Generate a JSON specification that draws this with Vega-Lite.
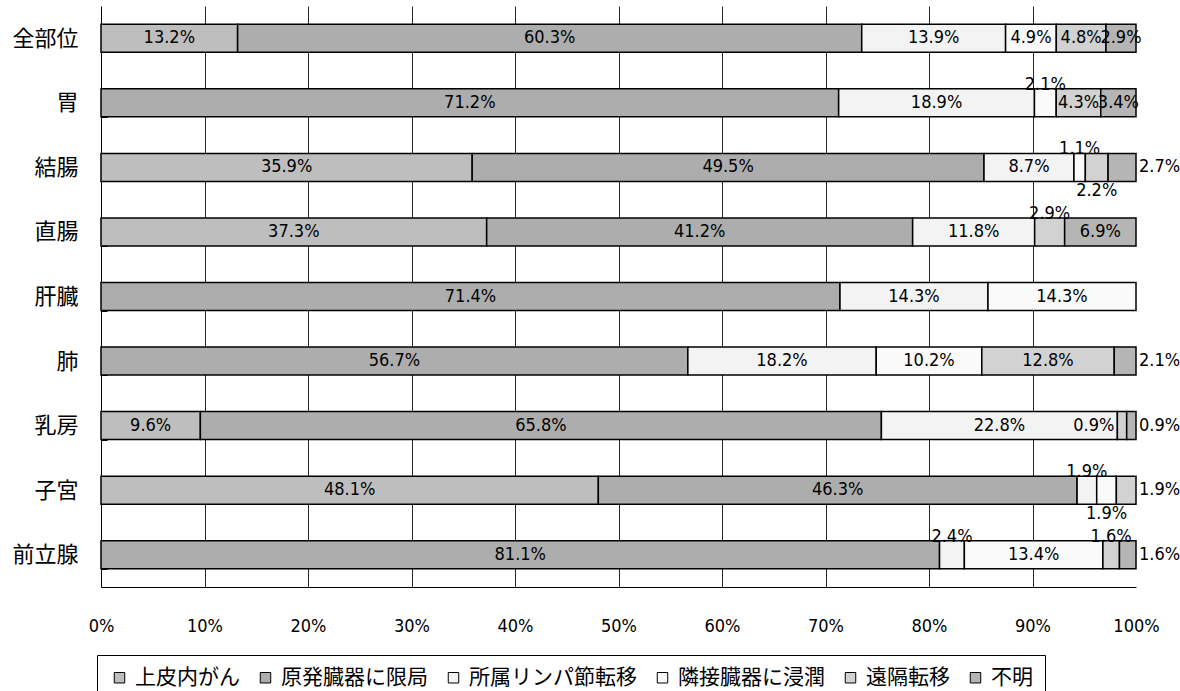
{
  "$schema": "https://vega.github.io/schema/vega-lite/v6.json",
  "autosize": {"type": "none"},
  "padding": {"left": 101, "top": 6, "right": 44, "bottom": 104},
  "width": 1035,
  "height": 581,
  "background": "white",
  "config": {
    "view": {"stroke": null},
    "text": {"font": "DejaVu Sans Condensed, Liberation Sans Narrow, sans-serif", "fontSize": 18, "color": "black"}
  },
  "data": {
    "values": [
      {"site": "全部位", "stage": "上皮内がん", "p": 0.132},
      {"site": "全部位", "stage": "原発臓器に限局", "p": 0.603},
      {"site": "全部位", "stage": "所属リンパ節転移", "p": 0.139},
      {"site": "全部位", "stage": "隣接臓器に浸潤", "p": 0.049},
      {"site": "全部位", "stage": "遠隔転移", "p": 0.048},
      {"site": "全部位", "stage": "不明", "p": 0.029},
      {"site": "胃", "stage": "原発臓器に限局", "p": 0.712},
      {"site": "胃", "stage": "所属リンパ節転移", "p": 0.189},
      {"site": "胃", "stage": "隣接臓器に浸潤", "p": 0.021},
      {"site": "胃", "stage": "遠隔転移", "p": 0.043},
      {"site": "胃", "stage": "不明", "p": 0.034},
      {"site": "結腸", "stage": "上皮内がん", "p": 0.359},
      {"site": "結腸", "stage": "原発臓器に限局", "p": 0.495},
      {"site": "結腸", "stage": "所属リンパ節転移", "p": 0.087},
      {"site": "結腸", "stage": "隣接臓器に浸潤", "p": 0.011},
      {"site": "結腸", "stage": "遠隔転移", "p": 0.022},
      {"site": "結腸", "stage": "不明", "p": 0.027},
      {"site": "直腸", "stage": "上皮内がん", "p": 0.373},
      {"site": "直腸", "stage": "原発臓器に限局", "p": 0.412},
      {"site": "直腸", "stage": "所属リンパ節転移", "p": 0.118},
      {"site": "直腸", "stage": "遠隔転移", "p": 0.029},
      {"site": "直腸", "stage": "不明", "p": 0.069},
      {"site": "肝臓", "stage": "原発臓器に限局", "p": 0.714},
      {"site": "肝臓", "stage": "所属リンパ節転移", "p": 0.143},
      {"site": "肝臓", "stage": "隣接臓器に浸潤", "p": 0.143},
      {"site": "肺", "stage": "原発臓器に限局", "p": 0.567},
      {"site": "肺", "stage": "所属リンパ節転移", "p": 0.182},
      {"site": "肺", "stage": "隣接臓器に浸潤", "p": 0.102},
      {"site": "肺", "stage": "遠隔転移", "p": 0.128},
      {"site": "肺", "stage": "不明", "p": 0.021},
      {"site": "乳房", "stage": "上皮内がん", "p": 0.096},
      {"site": "乳房", "stage": "原発臓器に限局", "p": 0.658},
      {"site": "乳房", "stage": "所属リンパ節転移", "p": 0.228},
      {"site": "乳房", "stage": "遠隔転移", "p": 0.009},
      {"site": "乳房", "stage": "不明", "p": 0.009},
      {"site": "子宮", "stage": "上皮内がん", "p": 0.481},
      {"site": "子宮", "stage": "原発臓器に限局", "p": 0.463},
      {"site": "子宮", "stage": "所属リンパ節転移", "p": 0.019},
      {"site": "子宮", "stage": "隣接臓器に浸潤", "p": 0.019},
      {"site": "子宮", "stage": "遠隔転移", "p": 0.019},
      {"site": "前立腺", "stage": "原発臓器に限局", "p": 0.811},
      {"site": "前立腺", "stage": "所属リンパ節転移", "p": 0.024},
      {"site": "前立腺", "stage": "隣接臓器に浸潤", "p": 0.134},
      {"site": "前立腺", "stage": "遠隔転移", "p": 0.016},
      {"site": "前立腺", "stage": "不明", "p": 0.016}
    ]
  },
  "transform": [
    {"stack": "p", "groupby": ["site"], "offset": "normalize", "as": ["x0", "x1"]},
    {"calculate": "(datum.x0 + datum.x1) / 2", "as": "xm"},
    {"calculate": "datum.site + '|' + datum.stage", "as": "key"}
  ],
  "encoding": {
    "y": {
      "field": "site",
      "type": "nominal",
      "sort": ["全部位", "胃", "結腸", "直腸", "肝臓", "肺", "乳房", "子宮", "前立腺"],
      "scale": {"paddingInner": 0.566, "paddingOuter": 0.283},
      "axis": {
        "title": null,
        "domainColor": "black",
        "domainWidth": 1,
        "tickBand": "extent",
        "tickColor": "black",
        "tickSize": -6,
        "labelPadding": 29,
        "labelFont": "Noto Sans CJK JP",
        "labelFontSize": 22,
        "labelColor": "black"
      }
    }
  },
  "layer": [
    {
      "mark": {"type": "bar", "stroke": "black", "strokeWidth": 1.5},
      "encoding": {
        "x": {
          "field": "x0",
          "type": "quantitative",
          "scale": {"domain": [0, 1], "nice": false, "zero": true},
          "axis": {
            "title": null,
            "values": [0, 0.1, 0.2, 0.3, 0.4, 0.5, 0.6, 0.7, 0.8, 0.9, 1],
            "format": ".0%",
            "grid": true,
            "gridColor": "black",
            "gridWidth": 1,
            "gridOpacity": {"condition": {"test": "datum.value <= 0 || datum.value >= 1", "value": 0}, "value": 0.85},
            "ticks": false,
            "domainColor": "black",
            "domainWidth": 1,
            "labelPadding": 30,
            "labelFont": "DejaVu Sans Condensed, Liberation Sans Narrow, sans-serif",
            "labelFontSize": 18,
            "labelColor": "black",
            "labelFlush": false
          }
        },
        "x2": {"field": "x1"},
        "fill": {
          "field": "stage",
          "type": "nominal",
          "scale": {
            "domain": ["上皮内がん", "原発臓器に限局", "所属リンパ節転移", "隣接臓器に浸潤", "遠隔転移", "不明"],
            "range": ["#bebebe", "#adadad", "#f3f3f3", "#fafafa", "#d2d2d2", "#b5b5b5"]
          },
          "legend": {
            "title": null,
            "orient": "none",
            "direction": "horizontal",
            "legendX": -4,
            "legendY": 649,
            "strokeColor": "black",
            "padding": 12,
            "symbolType": "square",
            "symbolSize": 110,
            "symbolStrokeColor": "black",
            "symbolStrokeWidth": 1,
            "labelFont": "Noto Sans CJK JP",
            "labelFontSize": 21,
            "labelColor": "black",
            "labelOffset": 5,
            "labelLimit": 300,
            "columnPadding": 15
          }
        }
      }
    },
    {
      "transform": [
        {"filter": "indexof(['胃|隣接臓器に浸潤','結腸|隣接臓器に浸潤','直腸|遠隔転移','子宮|所属リンパ節転移','前立腺|所属リンパ節転移','前立腺|遠隔転移','結腸|遠隔転移','子宮|隣接臓器に浸潤','結腸|不明','肺|不明','乳房|不明','子宮|遠隔転移','前立腺|不明','乳房|遠隔転移'], datum.key) < 0"}
      ],
      "mark": {"type": "text", "align": "center", "baseline": "middle"},
      "encoding": {
        "x": {"field": "xm", "type": "quantitative"},
        "text": {"field": "p", "type": "quantitative", "format": ".1%"}
      }
    },
    {
      "transform": [
        {"filter": "indexof(['胃|隣接臓器に浸潤','結腸|隣接臓器に浸潤','直腸|遠隔転移','子宮|所属リンパ節転移','前立腺|所属リンパ節転移','前立腺|遠隔転移'], datum.key) >= 0"}
      ],
      "mark": {"type": "text", "align": "center", "baseline": "middle", "dy": -18},
      "encoding": {
        "x": {"field": "xm", "type": "quantitative"},
        "text": {"field": "p", "type": "quantitative", "format": ".1%"}
      }
    },
    {
      "transform": [
        {"filter": "indexof(['結腸|遠隔転移','子宮|隣接臓器に浸潤'], datum.key) >= 0"}
      ],
      "mark": {"type": "text", "align": "center", "baseline": "middle", "dy": 24},
      "encoding": {
        "x": {"field": "xm", "type": "quantitative"},
        "text": {"field": "p", "type": "quantitative", "format": ".1%"}
      }
    },
    {
      "transform": [
        {"filter": "indexof(['結腸|不明','肺|不明','乳房|不明','子宮|遠隔転移','前立腺|不明'], datum.key) >= 0"}
      ],
      "mark": {"type": "text", "align": "left", "baseline": "middle", "dx": 3},
      "encoding": {
        "x": {"field": "x1", "type": "quantitative"},
        "text": {"field": "p", "type": "quantitative", "format": ".1%"}
      }
    },
    {
      "transform": [
        {"filter": "indexof(['乳房|遠隔転移'], datum.key) >= 0"}
      ],
      "mark": {"type": "text", "align": "right", "baseline": "middle", "dx": -3},
      "encoding": {
        "x": {"field": "x0", "type": "quantitative"},
        "text": {"field": "p", "type": "quantitative", "format": ".1%"}
      }
    }
  ]
}
